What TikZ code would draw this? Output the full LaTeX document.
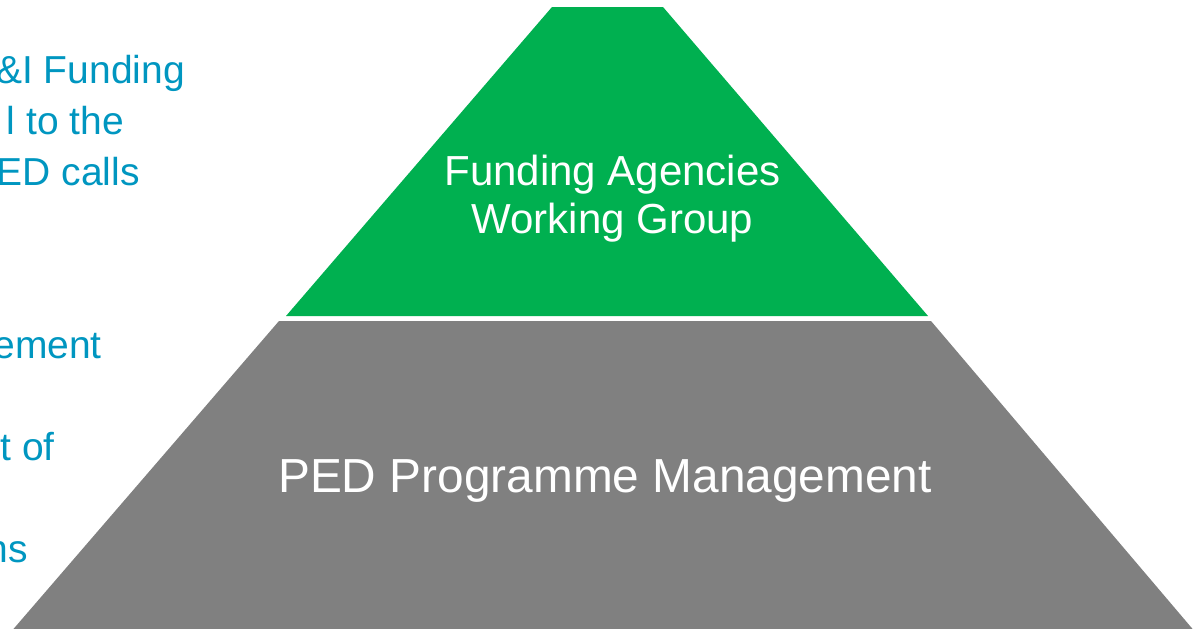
\documentclass[tikz,border=0pt]{standalone}
\usepackage{fontspec}
\setmainfont{Liberation Sans}
\definecolor{fagreen}{RGB}{0,176,80}
\definecolor{pedgray}{RGB}{128,128,128}
\definecolor{noteblue}{RGB}{0,150,192}
\tikzset{
  note/.style={text=noteblue,inner sep=0pt,anchor=base east,font=\fontsize{39}{51}\selectfont},
  levellabel/.style={text=white,inner sep=0pt,align=center}
}
\begin{document}
\begin{tikzpicture}[x=1pt,y=-1pt]
  \useasboundingbox (0,0) rectangle (1200,629);
  % two levels of the pyramid
  \fill[fagreen] (552,7)--(663,7)--(928,316)--(286,316)--cycle;
  \fill[pedgray] (279,321)--(931,321)--(1196,633)--(10,633)--cycle;
  \path (612.5,155) node[levellabel,anchor=north,font=\fontsize{42}{48}\selectfont] (fawg) {Funding Agencies\\Working Group}
        (605,492) node[levellabel,anchor=base,font=\fontsize{47.8}{55}\selectfont] (pedpm) {PED Programme Management};
  % notes cut off at the left edge
  \foreach \n/\x/\y/\t in {a/185/83/{\&I Funding},b/124/134/{l to the},c/140/185/{ED calls},
                           d/102/358/{ement},e/55/460/{t of},f/28/562/{ns}}
    \node[note] (note\n) at (\x,\y) {\t};
\end{tikzpicture}
\end{document}
